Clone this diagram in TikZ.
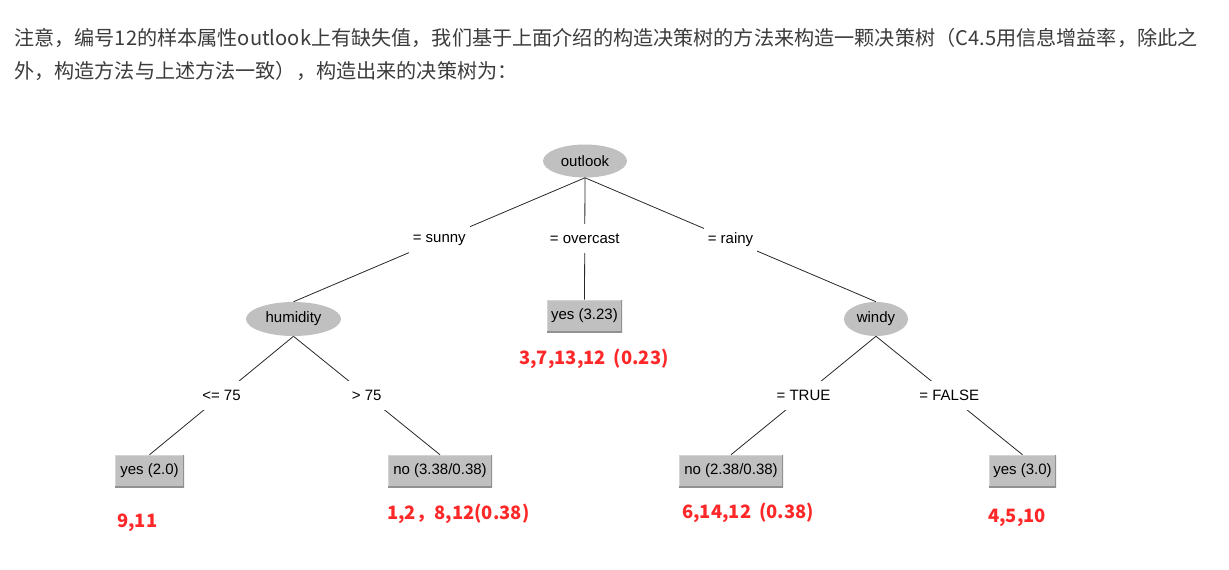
\documentclass[tikz,border=0pt]{standalone}
\usepackage{fontspec}
\setmainfont{Liberation Sans}
\newfontfamily\cjk{Noto Sans CJK SC}
\usetikzlibrary{shapes.geometric}
\definecolor{nodegray}{RGB}{192,192,192}
\definecolor{boxdark}{RGB}{145,145,145}
\definecolor{boxlight}{RGB}{212,212,212}
\definecolor{txtgray}{RGB}{60,60,60}
\definecolor{annred}{RGB}{255,40,40}
\definecolor{edgecol}{RGB}{40,40,40}
\newcommand{\treefont}{\fontsize{11.25pt}{13pt}\selectfont}
\begin{document}
\begin{tikzpicture}[x=0.75pt,y=-0.75pt,
  attr/.style={ellipse, fill=nodegray, inner sep=0pt, font=\treefont},
  leaf/.style={rectangle, fill=nodegray, minimum height=24pt, inner sep=0pt, font=\treefont,
    path picture={
      \draw[boxlight,line width=1.5pt] (path picture bounding box.south west) -- (path picture bounding box.north west) -- (path picture bounding box.north east);
      \draw[boxdark,line width=1.5pt] (path picture bounding box.south west) -- (path picture bounding box.south east) -- (path picture bounding box.north east);}},
  lbl/.style={fill=white, inner xsep=3pt, inner ysep=0pt, minimum height=21.75pt, font=\treefont},
  edge/.style={draw=edgecol, line width=0.6pt},
  ann/.style={text=annred, font=\cjk\bfseries\fontsize{13.8pt}{16pt}\selectfont, anchor=base west, inner sep=0pt},
  para/.style={text=txtgray, font=\cjk\fontsize{15.1pt}{18pt}\selectfont, anchor=base west, inner sep=0pt}]
\useasboundingbox (0,0) rectangle (1229,569);
\fill[white] (0,0) rectangle (1229,569);

\node[para] (line1) at (14,45.5) {注意，编号12的样本属性outlook上有缺失值，我们基于上面介绍的构造决策树的方法来构造一颗决策树（C4.5用信息增益率，除此之};
\node[para] (line2) at (14,78.5) {外，构造方法与上述方法一致），构造出来的决策树为：};

\node[attr, minimum width=63pt, minimum height=24.75pt] (outlook) at (585,161) {outlook};
\node[attr, minimum width=71.25pt, minimum height=25.5pt] (humidity) at (293.5,319) {humidity};
\node[leaf, minimum width=56.25pt] (yes323) at (584.5,316) {yes (3.23)};
\node[attr, minimum width=48pt, minimum height=25.5pt] (windy) at (876,319) {windy};
\node[leaf, minimum width=51.75pt] (yes20) at (149.5,471) {yes (2.0)};
\node[leaf, minimum width=78pt] (no338) at (440,471) {no (3.38/0.38)};
\node[leaf, minimum width=78pt] (no238) at (731,471) {no (2.38/0.38)};
\node[leaf, minimum width=50.25pt] (yes30) at (1022.5,471) {yes (3.0)};

\draw[edge] (outlook.south) -- node[lbl] (sunny) {= sunny} (humidity.north);
\draw[edge] (outlook.south) -- node[lbl] (overcast) {= overcast} (yes323.north);
\draw[edge] (outlook.south) -- node[lbl] (rainy) {= rainy} (windy.north);
\draw[edge] (humidity.south) -- node[lbl] (le75) {<= 75} (yes20.north);
\draw[edge] (humidity.south) -- node[lbl] (gt75) {> 75} (no338.north);
\draw[edge] (windy.south) -- node[lbl] (true) {= TRUE} (no238.north);
\draw[edge] (windy.south) -- node[lbl] (false) {= FALSE} (yes30.north);

\node[ann] (a1) at (519,364) {3,7,13,12\hspace{6pt}(0.23)};
\node[ann] (a2) at (117,527) {9,11};
\node[ann] (a3) at (387,519) {1,2，8,12(0.38)};
\node[ann] (a4) at (682,518) {6,14,12\hspace{6pt}(0.38)};
\node[ann] (a5) at (988,522) {4,5,10};
\end{tikzpicture}
\end{document}
